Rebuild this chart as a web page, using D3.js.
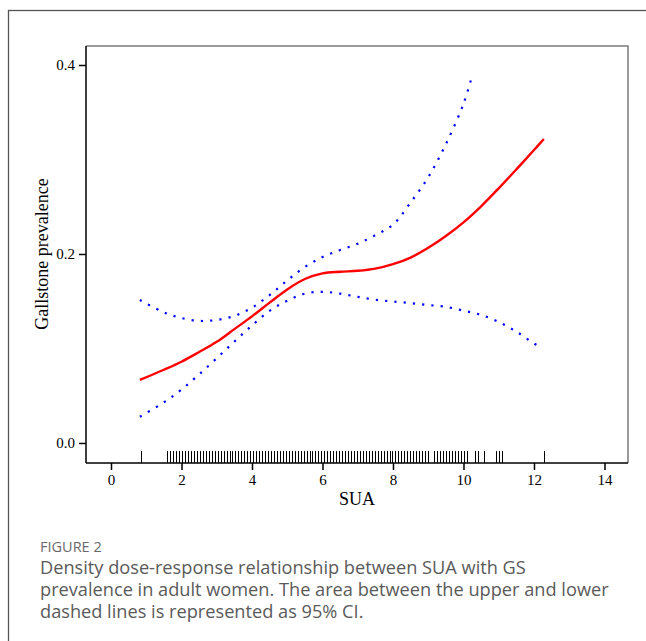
<!DOCTYPE html>
<html>
<head>
	<meta charset="utf-8">
	<script src="https://cdnjs.cloudflare.com/ajax/libs/d3/7.8.5/d3.min.js"></script>
	<style>
	body { margin: 0; background: #fff; }
	.tick text { font-family: "Liberation Serif", "Times New Roman", serif; font-size: 15px; fill: #000; }
	.caption { font-family: "Open Sans", "Noto Sans", sans-serif; fill: #5a5a5a; }
	</style>
</head>
<body>
	<svg width="646" height="641"></svg>
	<script>
	//fitted curve, SUA (mg/dL) vs prevalence
	let fitX = [0.82, 1.5, 2.0, 2.5, 3.0, 3.5, 4.0, 4.5, 5.0, 5.5, 6.0, 6.5, 7.0, 7.5, 8.0, 8.5, 9.0, 9.5, 10.0, 10.5, 11.0, 11.5, 12.0, 12.28];
	let fitY = [0.0667, 0.0775, 0.086, 0.0962, 0.107, 0.1205, 0.134, 0.1485, 0.1625, 0.1735, 0.1795, 0.1812, 0.1822, 0.1845, 0.1892, 0.1962, 0.2065, 0.219, 0.2335, 0.2505, 0.2695, 0.2895, 0.31, 0.3217];

	//upper 95% CI
	let upperX = [0.82, 1.5, 2.0, 2.5, 3.0, 3.5, 4.0, 4.5, 5.0, 5.5, 6.0, 6.5, 7.0, 7.5, 8.0, 8.5, 9.0, 9.5, 10.0, 10.26];
	let upperY = [0.1513, 0.1382, 0.1322, 0.1292, 0.1302, 0.1345, 0.1432, 0.1565, 0.172, 0.1862, 0.1968, 0.2042, 0.2108, 0.2199, 0.231, 0.2545, 0.2812, 0.3162, 0.359, 0.3905];

	//lower 95% CI
	let lowerX = [0.82, 1.5, 2.0, 2.5, 3.0, 3.5, 4.0, 4.5, 5.0, 5.5, 6.0, 6.5, 7.0, 7.5, 8.0, 8.5, 9.0, 9.5, 10.0, 10.5, 11.0, 11.5, 12.0, 12.2];
	let lowerY = [0.0278, 0.043, 0.0565, 0.0726, 0.0897, 0.1073, 0.1243, 0.1398, 0.1505, 0.158, 0.16, 0.158, 0.1546, 0.1516, 0.1497, 0.148, 0.146, 0.144, 0.14, 0.1355, 0.128, 0.1178, 0.1053, 0.1015];

	//observed SUA values for the rug (umol/L)
	let rugUmol = [50,
		95, 100, 105, 110, 115, 120, 125, 130, 135, 140, 145, 150, 155, 160, 165, 170, 175, 180, 185, 190,
		195, 200, 205, 210, 215, 220, 225, 230, 235, 240, 245, 250, 255, 260, 265, 270, 275, 280, 285, 290,
		295, 300, 305, 310, 315, 320, 325, 330, 335, 340, 345, 350, 355, 360, 365, 370, 375, 380, 385, 390,
		395, 400, 405, 410, 415, 420, 425, 430, 435, 440, 445, 450, 455, 460, 465, 470, 475, 480, 485, 490,
		495, 500, 505, 510, 515, 520, 525, 530, 535,
		545, 550, 555, 560, 565, 570, 575, 580, 585, 590, 595, 600,
		615, 620, 630, 650, 655, 660, 730];

	let xTicks = [0, 2, 4, 6, 8, 10, 12, 14];
	let yTicks = [0.0, 0.2, 0.4];

	let captionLines = [
		"Density dose-response relationship between SUA with GS",
		"prevalence in adult women. The area between the upper and lower",
		"dashed lines is represented as 95% CI."
	];

	let svg = d3.select("svg");

	//outer figure frame
	svg.append("rect")
		.attr("x", 8.5).attr("y", 10.5)
		.attr("width", 700).attr("height", 700)
		.attr("fill", "none")
		.attr("stroke", "#555")
		.attr("stroke-width", 1.3);

	//plot region
	let pLeft = 86, pRight = 628, pTop = 46, pBottom = 463;

	let x = d3.scaleLinear().domain([-0.709, 14.667]).range([pLeft, pRight]);
	let y = d3.scaleLinear().domain([-0.0212, 0.4201]).range([pBottom, pTop]);

	let g = svg.append("g");

	//box: grey top/right
	g.append("path")
		.attr("d", "M" + pLeft + "," + pTop + "H" + pRight + "V" + pBottom)
		.attr("fill", "none")
		.attr("stroke", "#7a7a7a")
		.attr("stroke-width", 1.5);

	//axes
	g.append("g")
		.attr("transform", "translate(0," + pBottom + ")")
		.call(d3.axisBottom(x).tickValues(xTicks).tickSize(7).tickPadding(4).tickFormat(d3.format("d")))
		.call(a => a.select(".domain").attr("d", "M" + pLeft + ",0H" + pRight).attr("stroke-width", 1.5))
		.call(a => a.selectAll(".tick line").attr("stroke-width", 1.5));

	g.append("g")
		.attr("transform", "translate(" + pLeft + ",0)")
		.call(d3.axisLeft(y).tickValues(yTicks).tickSize(7).tickPadding(4).tickFormat(d3.format(".1f")))
		.call(a => a.select(".domain").attr("d", "M0," + pTop + "V" + pBottom).attr("stroke-width", 1.5))
		.call(a => a.selectAll(".tick line").attr("stroke-width", 1.5));

	//rug
	g.selectAll(".rug")
		.data(rugUmol)
		.enter()
		.append("line")
		.attr("class", "rug")
		.attr("x1", d => Math.round(x(d / 59.48)) + 0.5)
		.attr("x2", d => Math.round(x(d / 59.48)) + 0.5)
		.attr("y1", pBottom - 12)
		.attr("y2", pBottom)
		.attr("stroke", "#000")
		.attr("stroke-width", 1);

	let line = d3.line()
		.curve(d3.curveCatmullRom)
		.x(d => x(d[0]))
		.y(d => y(d[1]));

	//CI lines
	[[upperX, upperY], [lowerX, lowerY]].forEach(function(s) {
		g.append("path")
			.attr("d", line(d3.zip(s[0], s[1])))
			.attr("fill", "none")
			.attr("stroke", "#0000ff")
			.attr("stroke-width", 2.2)
			.attr("stroke-dasharray", "2.2,7.1");
	});

	//fit line
	g.append("path")
		.attr("d", line(d3.zip(fitX, fitY)))
		.attr("fill", "none")
		.attr("stroke", "#ff0000")
		.attr("stroke-width", 2.4);

	//axis titles
	svg.append("text")
		.attr("x", (pLeft + pRight) / 2)
		.attr("y", 505)
		.attr("text-anchor", "middle")
		.style("font", "18px 'Liberation Serif', serif")
		.text("SUA");

	svg.append("text")
		.attr("transform", "translate(48," + y(0.2) + ") rotate(-90)")
		.attr("text-anchor", "middle")
		.style("font", "18px 'Liberation Serif', serif")
		.text("Gallstone prevalence");

	//caption
	svg.append("text")
		.attr("class", "caption")
		.attr("x", 40).attr("y", 552)
		.style("font-size", "14.5px")
		.style("font-weight", "500")
		.style("fill", "#6a6a6a")
		.text("FIGURE 2");

	svg.append("g").selectAll("text")
		.data(captionLines)
		.enter()
		.append("text")
		.attr("class", "caption")
		.attr("x", 40)
		.attr("y", (d, i) => 574 + i * 22)
		.style("font-size", "18.2px")
		.text(d => d);
	</script>
</body>
</html>
